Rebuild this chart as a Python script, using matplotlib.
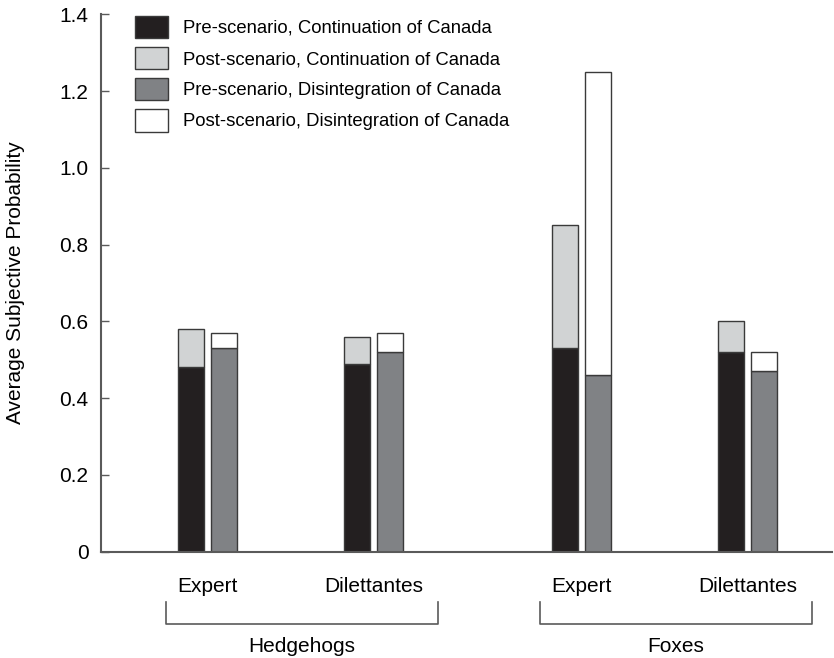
import matplotlib
matplotlib.use("Agg")
import matplotlib.pyplot as plt
import numpy as np
from matplotlib.patches import Patch

plt.rcParams["font.family"] = ["Liberation Sans", "DejaVu Sans"]

# data
subgroups = ["Expert", "Dilettantes", "Expert", "Dilettantes"]
groups = ["Hedgehogs", "Foxes"]
pre_continuation = [0.48, 0.49, 0.53, 0.52]
post_continuation = [0.58, 0.56, 0.85, 0.60]
pre_disintegration = [0.53, 0.52, 0.46, 0.47]
post_disintegration = [0.57, 0.57, 1.25, 0.52]
legend_labels = [
    "Pre-scenario, Continuation of Canada",
    "Post-scenario, Continuation of Canada",
    "Pre-scenario, Disintegration of Canada",
    "Post-scenario, Disintegration of Canada",
]
yticks = [0, 0.2, 0.4, 0.6, 0.8, 1.0, 1.2, 1.4]
ytick_labels = ["0", "0.2", "0.4", "0.6", "0.8", "1.0", "1.2", "1.4"]

# layout
centers = np.array([0, 1, 2.25, 3.25])
width = 0.156
offset = 0.099
c_black, c_light, c_gray, c_white = "#231f20", "#d1d3d4", "#808285", "white"
edge = "#3a3a3a"
axis_color = "#5a5a5a"

fig = plt.figure(figsize=(8.34, 6.58), dpi=100)
ax = fig.add_axes([0.1211, 0.1616, 0.8765, 0.8167])

pre_c = np.array(pre_continuation)
post_c = np.array(post_continuation)
pre_d = np.array(pre_disintegration)
post_d = np.array(post_disintegration)

kw = dict(width=width, edgecolor=edge, linewidth=1.0)
ax.bar(centers - offset, pre_c, color=c_black, **kw)
ax.bar(centers - offset, post_c - pre_c, bottom=pre_c, color=c_light, **kw)
ax.bar(centers + offset, pre_d, color=c_gray, **kw)
ax.bar(centers + offset, post_d - pre_d, bottom=pre_d, color=c_white, **kw)

ax.set_xlim(-0.64, 3.76)
ax.set_ylim(0, 1.4)
ax.set_yticks(yticks)
ax.set_yticklabels(ytick_labels)
ax.tick_params(axis="y", direction="in", length=6, width=1, color=axis_color,
               labelsize=15, pad=9)
ax.set_xticks(centers)
ax.set_xticklabels(subgroups)
ax.tick_params(axis="x", length=0, labelsize=15, pad=18)

for side in ["top", "right"]:
    ax.spines[side].set_visible(False)
for side in ["left", "bottom"]:
    ax.spines[side].set_color(axis_color)
    ax.spines[side].set_linewidth(1.5)

ax.set_ylabel("Average Subjective Probability", fontsize=15, labelpad=25)

# group brackets below the subgroup labels
tr = ax.get_xaxis_transform()
spans = [(centers[0] - 0.25, centers[1] + 0.39), (centers[2] - 0.25, centers[3] + 0.39)]
for name, (x0, x1) in zip(groups, spans):
    ax.plot([x0, x0, x1, x1], [-0.093, -0.134, -0.134, -0.093], color=axis_color,
            lw=1.2, transform=tr, clip_on=False)
    ax.text((x0 + x1) / 2, -0.177, name, transform=tr, ha="center", va="center",
            fontsize=15)

handles = [
    Patch(facecolor=c, edgecolor=edge, linewidth=1.0)
    for c in [c_black, c_light, c_gray, c_white]
]
ax.legend(handles, legend_labels, loc="upper left", frameon=False, fontsize=13.3,
          bbox_to_anchor=(135 / 834, 1 - 15.5 / 658), bbox_transform=fig.transFigure,
          borderpad=0, borderaxespad=0, handlelength=1.78, handleheight=1.52,
          handletextpad=0.81, labelspacing=0.45)

fig.savefig("out.png", dpi=100, facecolor="white")
